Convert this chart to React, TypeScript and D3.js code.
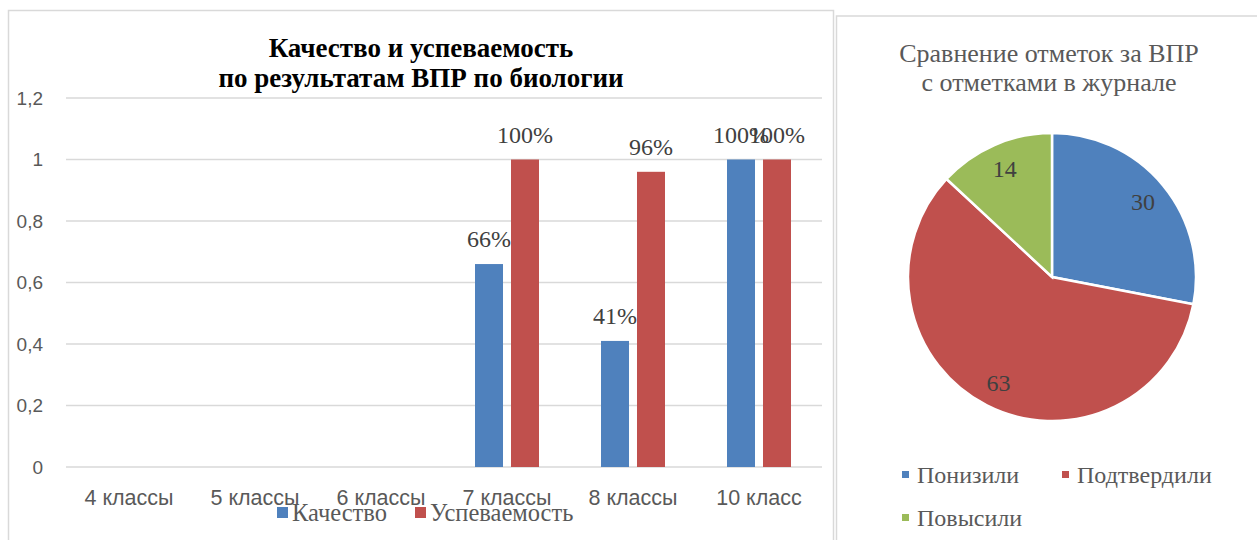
import * as d3 from "d3";

const categories = ["4 классы", "5 классы", "6 классы", "7 классы", "8 классы", "10 класс"];
const quality: (number | null)[] = [null, null, null, 0.66, 0.41, 1];
const progress: (number | null)[] = [null, null, null, 1, 0.96, 1];
const seriesNames = ["Качество", "Успеваемость"];
const yTicks = [0, 0.2, 0.4, 0.6, 0.8, 1, 1.2];

const pieLabels = ["Понизили", "Подтвердили", "Повысили"];
const pieValues = [30, 63, 14];

const BLUE = "#4f81bd";
const RED = "#c0504d";
const GREEN = "#9bbb59";
const GRID = "#d9d9d9";
const sans = "Liberation Sans";
const serif = "Liberation Serif";

function BarChart() {
  const x0 = d3.scaleBand(categories, [66, 822]);
  const groupW = 64;
  const x1 = d3
    .scaleBand(seriesNames, [(x0.bandwidth() - groupW) / 2, (x0.bandwidth() + groupW) / 2])
    .paddingInner(0.222);
  const y = d3.scaleLinear([0, 1.2], [467, 98]);
  const fmt = (v: number) => String(+v.toFixed(1)).replace(".", ",");
  const series = [quality, progress];
  const colors = [BLUE, RED];

  return (
    <g>
      <rect x={8.5} y={10.5} width={825} height={560} fill="white" stroke={GRID} strokeWidth={1.5} />
      <text textAnchor="middle" fontFamily={serif} fontWeight="bold" fontSize={27} fill="#000">
        <tspan x={421} y={57}>Качество и успеваемость</tspan>
        <tspan x={421} y={87}>по результатам ВПР по биологии</tspan>
      </text>
      {yTicks.map((t) => (
        <g key={t}>
          <line x1={66} x2={822} y1={y(t)} y2={y(t)} stroke={GRID} strokeWidth={1.5} />
          <text x={43} y={y(t)} dy="0.35em" textAnchor="end" fontFamily={sans} fontSize={19} fill="#595959">
            {fmt(t)}
          </text>
        </g>
      ))}
      {categories.map((c, i) => (
        <g key={c} transform={`translate(${x0(c)},0)`}>
          {series.map((s, j) => {
            const v = s[i];
            if (v == null) return null;
            const bx = x1(seriesNames[j])!;
            return (
              <g key={j}>
                <rect x={bx} y={y(v)} width={x1.bandwidth()} height={y(0) - y(v)} fill={colors[j]} />
                <text
                  x={bx + x1.bandwidth() / 2}
                  y={y(v) - 17}
                  textAnchor="middle"
                  fontFamily={serif}
                  fontSize={24}
                  fill="#404040"
                >
                  {Math.round(v * 100)}%
                </text>
              </g>
            );
          })}
          <text
            x={x0.bandwidth() / 2}
            y={505}
            textAnchor="middle"
            fontFamily={sans}
            fontSize={21.5}
            fill="#595959"
          >
            {c}
          </text>
        </g>
      ))}
      {/* legend */}
      {seriesNames.map((n, j) => {
        const lx = [277, 415][j];
        return (
          <g key={n}>
            <rect x={lx} y={507} width={11} height={11} fill={colors[j]} />
            <text x={lx + 15} y={521} fontFamily={serif} fontSize={24.5} fill="#595959">
              {n}
            </text>
          </g>
        );
      })}
    </g>
  );
}

function PieChart() {
  const cx = 1052;
  const cy = 277;
  const r = 144;
  const colors = [BLUE, RED, GREEN];
  const pie = d3.pie<number>().sort(null).value((d) => d);
  const arcs = pie(pieValues);
  const arc = d3.arc<d3.PieArcDatum<number>>().innerRadius(0).outerRadius(r);
  const labelArc = d3.arc<d3.PieArcDatum<number>>().innerRadius(r * 0.64).outerRadius(r);
  const legendPos = [
    [902, 483],
    [1062, 483],
    [902, 526],
  ];

  return (
    <g>
      <rect x={836.5} y={16} width={440} height={560} fill="white" stroke={GRID} strokeWidth={1.5} />
      <text textAnchor="middle" fontFamily={serif} fontSize={26} fill="#595959">
        <tspan x={1049} y={62}>Сравнение отметок за ВПР</tspan>
        <tspan x={1049} y={91}>с отметками в журнале</tspan>
      </text>
      <g transform={`translate(${cx},${cy})`}>
        {arcs.map((a, i) => (
          <path key={i} d={arc(a)!} fill={colors[i]} stroke="white" strokeWidth={2.5} />
        ))}
        {arcs.map((a, i) => {
          const [lx, ly] = labelArc.centroid(a);
          return (
            <text
              key={i}
              x={lx}
              y={ly}
              dy="0.35em"
              textAnchor="middle"
              fontFamily={serif}
              fontSize={24}
              fill="#404040"
            >
              {a.data}
            </text>
          );
        })}
      </g>
      {pieLabels.map((n, i) => (
        <g key={n}>
          <rect x={legendPos[i][0]} y={legendPos[i][1] - 12} width={7} height={7} fill={colors[i]} />
          <text x={legendPos[i][0] + 15} y={legendPos[i][1]} fontFamily={serif} fontSize={24} fill="#595959">
            {n}
          </text>
        </g>
      ))}
    </g>
  );
}

export default function App() {
  return (
    <svg
      width={1257}
      height={540}
      style={{ position: "absolute", left: 0, top: 0, background: "white" }}
    >
      <BarChart />
      <PieChart />
    </svg>
  );
}
